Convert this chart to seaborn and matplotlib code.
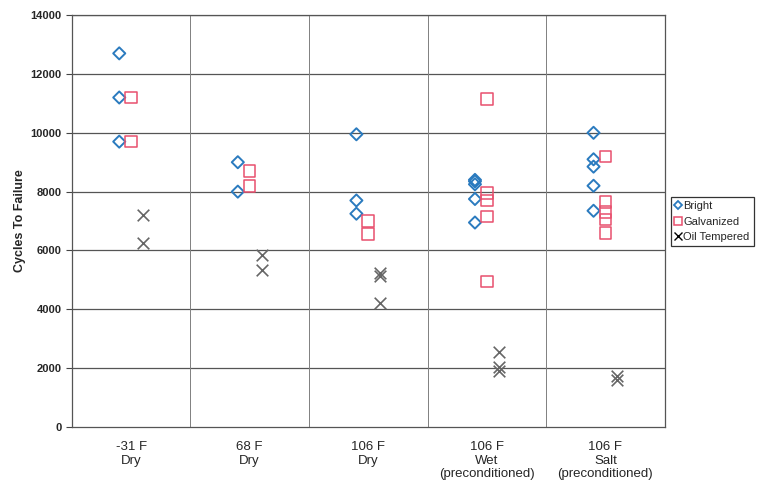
import numpy as np
import pandas as pd
import matplotlib
matplotlib.use("Agg")
import matplotlib.pyplot as plt
import seaborn as sb
from matplotlib.lines import Line2D

categories = ["-31 F\nDry", "68 F\nDry", "106 F\nDry",
              "106 F\nWet\n(preconditioned)", "106 F\nSalt\n(preconditioned)"]

bright = [
    [12700, 11200, 9700],
    [9000, 8000],
    [9950, 7700, 7250],
    [8400, 8350, 8250, 7750, 6950],
    [10000, 9100, 8850, 8200, 7350],
]
galvanized = [
    [11200, 9700],
    [8700, 8200],
    [7000, 6550],
    [11150, 7950, 7700, 7150, 4950],
    [9200, 7650, 7300, 7050, 6600],
]
oil_tempered = [
    [7200, 6250],
    [5850, 5350],
    [5230, 5130, 4220],
    [2550, 2050, 1900],
    [1750, 1600],
]

series = {"Bright": bright, "Galvanized": galvanized, "Oil Tempered": oil_tempered}

rows = []
for name, groups in series.items():
    for i, vals in enumerate(groups):
        for v in vals:
            rows.append({"cat": i, "series": name, "cycles": v})
df = pd.DataFrame(rows)

offsets = {"Bright": -0.1, "Galvanized": 0.0, "Oil Tempered": 0.1}
df["xpos"] = df["cat"] + df["series"].map(offsets)

sb.set_style("white")
plt.rcParams["font.family"] = ["Liberation Sans", "DejaVu Sans"]

fig = plt.figure(figsize=(7.64, 4.88), dpi=100)
ax = fig.add_axes([0.094, 0.125, 0.776, 0.844])

blue = "#2b7bbf"
pink = "#e8506e"
grey = "#666666"

d = df[df.series == "Bright"]
sb.scatterplot(x=d.xpos, y=d.cycles, marker="D", s=38, facecolor="none",
               edgecolor=blue, linewidth=1.4, ax=ax, zorder=3)
d = df[df.series == "Galvanized"]
sb.scatterplot(x=d.xpos, y=d.cycles, marker="s", s=70, facecolor="none",
               edgecolor=pink, linewidth=1.1, ax=ax, zorder=3)
d = df[df.series == "Oil Tempered"]
sb.scatterplot(x=d.xpos, y=d.cycles, marker="x", s=70, color=grey,
               linewidth=1.2, ax=ax, zorder=3)

ax.set_xlim(-0.5, len(categories) - 0.5)
ax.set_ylim(0, 14000)
ax.set_yticks(np.arange(0, 14001, 2000))
ax.set_xticks(range(len(categories)))
ax.set_xticklabels(categories, fontsize=9.5, linespacing=1.2)
ax.tick_params(axis="x", length=0, pad=10)
ax.tick_params(axis="y", length=4, width=0.8, labelsize=8, direction="out", color="#444444", left=True)
for t in ax.get_yticklabels():
    t.set_fontweight("bold")

for yv in np.arange(2000, 14001, 2000):
    ax.axhline(yv, color="#555555", lw=0.9, zorder=1)
for xv in np.arange(0.5, len(categories) - 0.5, 1):
    ax.axvline(xv, color="#808080", lw=0.7, zorder=1)
for sp in ax.spines.values():
    sp.set_color("#555555")
    sp.set_linewidth(0.9)

ax.set_xlabel("")
ax.set_ylabel("Cycles To Failure", fontsize=9, fontweight="bold", labelpad=3)

handles = [
    Line2D([], [], marker="D", ls="", markersize=4, markerfacecolor="none",
           markeredgecolor=blue, markeredgewidth=1.3),
    Line2D([], [], marker="s", ls="", markersize=6, markerfacecolor="none",
           markeredgecolor=pink, markeredgewidth=1.1),
    Line2D([], [], marker="x", ls="", markersize=6, color="black", markeredgewidth=1.0),
]
leg = ax.legend(handles, ["Bright", "Galvanized", "Oil Tempered"], loc="upper left",
                bbox_to_anchor=(1.01, 0.558), frameon=True, fancybox=False,
                fontsize=8, handlelength=0.6, handletextpad=0.2, borderpad=0.35,
                labelspacing=0.5, borderaxespad=0)
leg.get_frame().set_edgecolor("black")
leg.get_frame().set_linewidth(0.9)

fig.savefig("out.png", dpi=100)
